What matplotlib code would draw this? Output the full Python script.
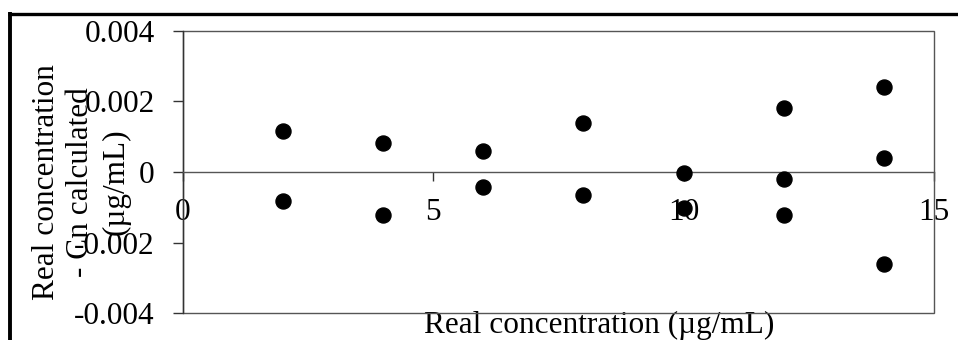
import matplotlib
matplotlib.use("Agg")
import matplotlib.pyplot as plt
from matplotlib.lines import Line2D
from matplotlib.patches import Rectangle

# Data
real_conc = [2, 2, 4, 4, 6, 6, 8, 8, 10, 10, 12, 12, 12, 14, 14, 14]
residual = [0.00116, -0.00082, 0.00081, -0.00123, 0.00059, -0.00042,
            0.00138, -0.00065, -0.00002, -0.00101, 0.00180, -0.00021,
            -0.00123, 0.00241, 0.00041, -0.00261]
x_ticks = [0, 5, 10, 15]
y_ticks = [-0.004, -0.002, 0, 0.002, 0.004]
y_tick_labels = ["-0.004", "-0.002", "0", "0.002", "0.004"]

plt.rcParams['font.family'] = ['Liberation Serif', 'DejaVu Serif']
FS = 22.5
W, H = 958, 340
fig = plt.figure(figsize=(W / 100, H / 100), dpi=100)

left, right, top, bottom = 182.7, 934.0, 30.7, 313.3
ax = fig.add_axes([left / W, 1 - bottom / H, (right - left) / W, (bottom - top) / H])

ax.scatter(real_conc, residual, s=117, color='black', zorder=3, clip_on=False)

ax.set_xlim(0, 15)
ax.set_ylim(-0.004, 0.004)
ax.set_xticks(x_ticks)
ax.set_xticklabels([str(t) for t in x_ticks])
ax.set_yticks(y_ticks)
ax.set_yticklabels(y_tick_labels)

spine_col = '#555555'
for s in ['top', 'right']:
    ax.spines[s].set_visible(False)
ax.spines['bottom'].set_position(('data', 0))
ax.spines['bottom'].set_color(spine_col)
ax.spines['left'].set_color('#333333')
ax.spines['bottom'].set_linewidth(1.0)
ax.spines['left'].set_linewidth(1.0)

# plot area border
ax.add_patch(Rectangle((0, 0), 1, 1, transform=ax.transAxes, fill=False,
                       edgecolor=spine_col, linewidth=1.0, clip_on=False, zorder=2))

ax.tick_params(axis='x', direction='out', length=6.5, width=1.0, color='#333333',
               labelsize=FS, pad=12)
ax.tick_params(axis='y', direction='out', length=7.2, width=1.0, color='#333333',
               labelsize=FS, pad=13)

ax.set_xlabel("Real concentration (\u00b5g/mL)", fontsize=FS, va='center')
ax.xaxis.set_label_coords((599 - left) / (right - left), (bottom - 325) / (bottom - top))

fig.text(81 / W, 1 - 182 / H, "Real concentration\n- Cn calculated\n(\u00b5g/mL)",
         rotation=90, ha='center', va='center', multialignment='center',
         fontsize=FS, linespacing=1.27)

# outer frame (top and left visible)
fig.add_artist(Line2D([8 / W, 1.0], [1 - 13.5 / H, 1 - 13.5 / H], color='black',
                      linewidth=2.4, transform=fig.transFigure, solid_capstyle='butt'))
fig.add_artist(Line2D([10 / W, 10 / W], [1 - 12 / H, 0.0], color='black',
                      linewidth=2.8, transform=fig.transFigure, solid_capstyle='butt'))

fig.savefig("out.png", dpi=100)
